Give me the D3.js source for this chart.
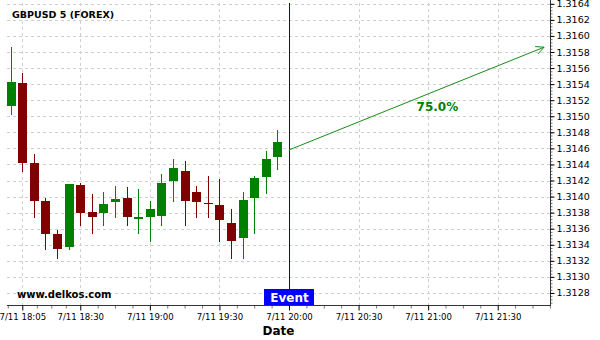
<!DOCTYPE html>
<html>
<head>
<meta charset="utf-8">
<script src="https://cdn.jsdelivr.net/npm/d3@7"></script>
<style>
  body { margin: 0; background: #fff; }
  svg { display: block; font-family: "DejaVu Sans", sans-serif; }
</style>
</head>
<body>
<div id="area"></div>
<script>
// 5 minute candles, 7/11 18:00 .. 19:55
var times = ["18:00","18:05","18:10","18:15","18:20","18:25","18:30","18:35","18:40","18:45","18:50","18:55",
             "19:00","19:05","19:10","19:15","19:20","19:25","19:30","19:35","19:40","19:45","19:50","19:55"];
var opens  = [1.31513,1.31542,1.31442,1.31394,1.31354,1.31337,1.31415,1.31381,1.31379,1.31393,1.31398,1.31373,
              1.31374,1.31376,1.31420,1.31432,1.31406,1.31392,1.31390,1.31367,1.31348,1.31398,1.31424,1.31449];
var highs  = [1.31586,1.31554,1.31453,1.31398,1.31359,1.31416,1.31417,1.31403,1.31406,1.31413,1.31412,1.31410,
              1.31395,1.31428,1.31447,1.31444,1.31413,1.31426,1.31422,1.31384,1.31406,1.31426,1.31457,1.31483];
var lows   = [1.31502,1.31430,1.31373,1.31333,1.31322,1.31333,1.31363,1.31353,1.31363,1.31373,1.31363,1.31353,
              1.31343,1.31363,1.31393,1.31363,1.31373,1.31373,1.31343,1.31322,1.31322,1.31353,1.31403,1.31433];
var closes = [1.31543,1.31442,1.31395,1.31354,1.31335,1.31416,1.31380,1.31375,1.31391,1.31397,1.31375,1.31374,
              1.31384,1.31417,1.31435,1.31394,1.31393,1.31391,1.31371,1.31345,1.31396,1.31423,1.31447,1.31468];

var xTickLabels = ["18:05","18:30","19:00","19:30","20:00","20:30","21:00","21:30"];
var yTicks = [1.3128,1.3130,1.3132,1.3134,1.3136,1.3138,1.3140,1.3142,1.3144,1.3146,
              1.3148,1.3150,1.3152,1.3154,1.3156,1.3158,1.3160,1.3162,1.3164];

var eventTime = "20:00";
var arrowFrom = { time: "20:00", value: 1.31458 };
var arrowTo   = { time: "21:50", value: 1.31586 };
var arrowLabel = { time: "21:04", value: 1.31512, text: "75.0%" };

var day = "2013-07-11T";
function t(s) { return new Date(day + s + ":00"); }

var W = 600, H = 340;
var pLeft = 7, pRight = 550, pTop = 3, pBottom = 305;

var svg = d3.select("#area").append("svg")
  .attr("width", W)
  .attr("height", H);

var x = d3.scaleTime()
  .domain([new Date(day + "17:58:24"), new Date(day + "21:52:33")])
  .range([pLeft, pRight]);

var y = d3.scaleLinear()
  .domain([1.31265, 1.31641])
  .range([pBottom, pTop]);

// grid
var grid = svg.append("g")
  .attr("stroke", "#cfcfcf")
  .attr("stroke-dasharray", "3,3")
  .attr("shape-rendering", "crispEdges");
grid.selectAll(".h").data(yTicks).enter().append("line")
  .attr("x1", pLeft).attr("x2", pRight)
  .attr("y1", function (d) { return Math.round(y(d)) + 0.5; })
  .attr("y2", function (d) { return Math.round(y(d)) + 0.5; });
grid.selectAll(".v").data(xTickLabels).enter().append("line")
  .attr("y1", pTop).attr("y2", pBottom)
  .attr("x1", function (d) { return Math.round(x(t(d))) + 0.5; })
  .attr("x2", function (d) { return Math.round(x(t(d))) + 0.5; });

// right axis
var yMinor = d3.range(1.31268, 1.31642, 0.00004);
svg.append("g")
  .attr("transform", "translate(" + (pRight + 0.5) + ",0)")
  .call(d3.axisRight(y).tickValues(yMinor).tickSize(2).tickFormat(""))
  .call(function (g) { g.select(".domain").remove(); })
  .selectAll("line").attr("stroke", "#777");

var yAxis = svg.append("g")
  .attr("transform", "translate(" + (pRight + 0.5) + ",0)")
  .call(d3.axisRight(y).tickValues(yTicks).tickSize(4).tickPadding(2)
    .tickFormat(d3.format(".4f")));
yAxis.select(".domain").attr("d", "M0,0V" + (pBottom + 0.5)).attr("stroke", "#333");
yAxis.selectAll("text")
  .attr("font-family", "DejaVu Sans")
  .attr("font-size", "9.5px")
  .attr("fill", "#000");

// bottom axis
var xMajor = xTickLabels.map(t);
var xMinor = [];
for (var i = 0; i < xMajor.length - 1; i++) {
  var step = (xMajor[i + 1] - xMajor[i]) / 4;
  for (var k = 1; k < 4; k++) xMinor.push(new Date(+xMajor[i] + k * step));
}
xMinor.push(new Date(+xMajor[0] - (xMajor[1] - xMajor[0]) / 4));
var lastStep = (xMajor[xMajor.length - 1] - xMajor[xMajor.length - 2]) / 4;
for (var k = 1; k < 4; k++) {
  var d = new Date(+xMajor[xMajor.length - 1] + k * lastStep);
  if (x(d) < pRight) xMinor.push(d);
}
svg.append("g")
  .attr("transform", "translate(0," + (pBottom + 0.5) + ")")
  .call(d3.axisBottom(x).tickValues(xMinor).tickSize(3).tickFormat(""))
  .call(function (g) { g.select(".domain").remove(); })
  .selectAll("line").attr("stroke", "#777");

var xAxis = svg.append("g")
  .attr("transform", "translate(0," + (pBottom + 0.5) + ")")
  .call(d3.axisBottom(x).tickValues(xMajor).tickSize(5).tickPadding(3)
    .tickFormat(function (d) { return "7/11 " + d3.timeFormat("%H:%M")(d); }));
xAxis.select(".domain").attr("d", "M" + pLeft + ",0H" + (pRight + 1)).attr("stroke", "#333");
xAxis.selectAll("text")
  .attr("font-family", "DejaVu Sans Condensed, DejaVu Sans")
  .attr("font-size", "9.5px")
  .attr("fill", "#000");

// candles
var candles = times.map(function (s, i) {
  return { t: t(s), o: opens[i], h: highs[i], l: lows[i], c: closes[i] };
});
var bodyW = 9;
var cg = svg.append("g").attr("shape-rendering", "crispEdges");
cg.selectAll(".wick").data(candles).enter().append("line")
  .attr("x1", function (d) { return Math.round(x(d.t)) + 0.5; })
  .attr("x2", function (d) { return Math.round(x(d.t)) + 0.5; })
  .attr("y1", function (d) { return y(d.h); })
  .attr("y2", function (d) { return y(d.l); })
  .attr("stroke", function (d) { return d.c >= d.o ? "#008000" : "#800000"; });
cg.selectAll(".body").data(candles).enter().append("rect")
  .attr("x", function (d) { return Math.round(x(d.t)) - 4; })
  .attr("width", bodyW)
  .attr("y", function (d) { return y(Math.max(d.o, d.c)); })
  .attr("height", function (d) { return Math.max(1.5, Math.abs(y(d.o) - y(d.c))); })
  .attr("fill", function (d) { return d.c >= d.o ? "#008000" : "#800000"; });

// event line
var ex = Math.round(x(t(eventTime))) + 0.5;
svg.append("line")
  .attr("x1", ex).attr("x2", ex)
  .attr("y1", pTop).attr("y2", pBottom)
  .attr("stroke", "#0000cc")
  .attr("shape-rendering", "crispEdges");

// forecast arrow
var ax1 = x(t(arrowFrom.time)), ay1 = y(arrowFrom.value);
var ax2 = x(t(arrowTo.time)), ay2 = y(arrowTo.value);
svg.append("line")
  .attr("x1", ax1).attr("y1", ay1).attr("x2", ax2).attr("y2", ay2)
  .attr("stroke", "#1a8a1a").attr("stroke-width", 1);
var ang = Math.atan2(ay2 - ay1, ax2 - ax1), hl = 9;
[-0.45, 0.45].forEach(function (da) {
  svg.append("line")
    .attr("x1", ax2).attr("y1", ay2)
    .attr("x2", ax2 - hl * Math.cos(ang + da))
    .attr("y2", ay2 - hl * Math.sin(ang + da))
    .attr("stroke", "#1a8a1a");
});
svg.append("text")
  .attr("x", x(t(arrowLabel.time)))
  .attr("y", y(arrowLabel.value))
  .attr("dy", "0.35em")
  .attr("text-anchor", "middle")
  .attr("font-size", "12px")
  .attr("font-weight", "bold")
  .attr("fill", "#008000")
  .text(arrowLabel.text);

// event tag
svg.append("rect")
  .attr("x", ex - 25.5).attr("y", pBottom - 16)
  .attr("width", 50).attr("height", 16)
  .attr("fill", "#0000ff");
svg.append("text")
  .attr("x", ex).attr("y", pBottom - 3.5)
  .attr("text-anchor", "middle")
  .attr("font-size", "12px")
  .attr("font-weight", "bold")
  .attr("fill", "#fff")
  .text("Event");

// texts
svg.append("text")
  .attr("x", 12).attr("y", 18)
  .attr("font-size", "9.5px").attr("font-weight", "bold")
  .text("GBPUSD 5 (FOREX)");
svg.append("text")
  .attr("x", 17).attr("y", 298)
  .attr("font-size", "10px").attr("font-weight", "bold")
  .text("www.delkos.com");
svg.append("text")
  .attr("x", (pLeft + pRight) / 2).attr("y", 335)
  .attr("text-anchor", "middle")
  .attr("font-size", "12px").attr("font-weight", "bold")
  .text("Date");
</script>
</body>
</html>
